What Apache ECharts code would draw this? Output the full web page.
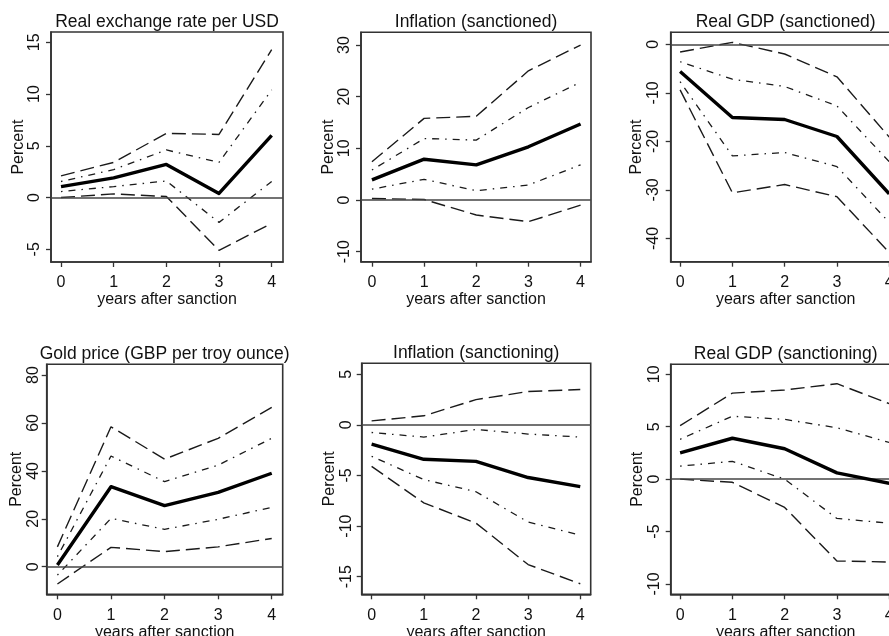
<!DOCTYPE html>
<html>
<head>
<meta charset="utf-8">
<title>Sanction impulse responses</title>
<script src="https://cdn.jsdelivr.net/npm/echarts@6/dist/echarts.min.js"></script>
<style>
  html, body { margin: 0; padding: 0; background: #fff; }
  #chart { width: 889px; height: 636px; }
</style>
</head>
<body>
<div id="chart"></div>
<script>
// Horizon (years after the sanction)
const years = [0, 1, 2, 3, 4];

// Real exchange rate per USD (%)
const fxMain  = [1.05, 1.9, 3.2, 0.4, 6.0];
const fxHiOut = [2.1, 3.4, 6.2, 6.1, 14.3];
const fxHiIn  = [1.55, 2.7, 4.6, 3.4, 10.4];
const fxLoIn  = [0.58, 1.06, 1.6, -2.4, 1.55];
const fxLoOut = [0.0, 0.35, 0.1, -5.1, -2.5];
const fxTicks = [-5, 0, 5, 10, 15];

// Inflation, sanctioned country (%)
const infSdMain  = [3.9, 7.9, 6.8, 10.3, 14.7];
const infSdHiOut = [7.4, 15.8, 16.2, 25.0, 30.0];
const infSdHiIn  = [5.8, 11.9, 11.6, 17.9, 22.8];
const infSdLoIn  = [2.1, 4.0, 1.8, 2.9, 6.8];
const infSdLoOut = [0.3, 0.1, -2.9, -4.2, -1.0];
const infSdTicks = [-10, 0, 10, 20, 30];

// Real GDP, sanctioned country (%)
const gdpSdMain  = [-5.6, -15.1, -15.5, -19.0, -30.8];
const gdpSdHiOut = [-1.6, 0.4, -2.0, -6.7, -19.1];
const gdpSdHiIn  = [-3.6, -7.2, -8.7, -12.7, -24.2];
const gdpSdLoIn  = [-7.7, -23.0, -22.3, -25.2, -36.7];
const gdpSdLoOut = [-9.4, -30.6, -28.9, -31.4, -42.9];
const gdpSdTicks = [-40, -30, -20, -10, 0];

// Gold price, GBP per troy ounce (%)
const goldMain  = [0.7, 33.4, 25.5, 31.0, 39.0];
const goldHiOut = [8.3, 58.4, 44.9, 53.6, 66.5];
const goldHiIn  = [4.2, 46.2, 35.5, 42.4, 53.6];
const goldLoIn  = [-3.5, 20.2, 15.6, 19.8, 24.8];
const goldLoOut = [-7.2, 8.1, 6.3, 8.3, 11.8];
const goldTicks = [0, 20, 40, 60, 80];

// Inflation, sanctioning country (%)
const infSgMain  = [-1.9, -3.4, -3.6, -5.2, -6.1];
const infSgHiOut = [0.4, 0.9, 2.5, 3.3, 3.5];
const infSgHiIn  = [-0.75, -1.2, -0.45, -0.9, -1.2];
const infSgLoIn  = [-3.1, -5.4, -6.6, -9.6, -10.9];
const infSgLoOut = [-4.1, -7.7, -9.7, -13.8, -15.7];
const infSgTicks = [-15, -10, -5, 0, 5];

// Real GDP, sanctioning country (%)
const gdpSgMain  = [2.5, 3.9, 2.9, 0.6, -0.4];
const gdpSgHiOut = [5.1, 8.2, 8.5, 9.1, 7.2];
const gdpSgHiIn  = [3.8, 6.0, 5.7, 4.9, 3.5];
const gdpSgLoIn  = [1.24, 1.7, 0.0, -3.75, -4.2];
const gdpSgLoOut = [0.0, -0.3, -2.7, -7.8, -7.9];
const gdpSgTicks = [-10, -5, 0, 5, 10];

const titles = [
  'Real exchange rate per USD', 'Inflation (sanctioned)', 'Real GDP (sanctioned)',
  'Gold price (GBP per troy ounce)', 'Inflation (sanctioning)', 'Real GDP (sanctioning)'
];
const xTitle = 'years after sanction';
const yTitle = 'Percent';

const panelData = [
  { main: fxMain, hiOut: fxHiOut, hiIn: fxHiIn, loIn: fxLoIn, loOut: fxLoOut, ticks: fxTicks },
  { main: infSdMain, hiOut: infSdHiOut, hiIn: infSdHiIn, loIn: infSdLoIn, loOut: infSdLoOut, ticks: infSdTicks },
  { main: gdpSdMain, hiOut: gdpSdHiOut, hiIn: gdpSdHiIn, loIn: gdpSdLoIn, loOut: gdpSdLoOut, ticks: gdpSdTicks },
  { main: goldMain, hiOut: goldHiOut, hiIn: goldHiIn, loIn: goldLoIn, loOut: goldLoOut, ticks: goldTicks },
  { main: infSgMain, hiOut: infSgHiOut, hiIn: infSgHiIn, loIn: infSgLoIn, loOut: infSgLoOut, ticks: infSgTicks },
  { main: gdpSgMain, hiOut: gdpSgHiOut, hiIn: gdpSgHiIn, loIn: gdpSgLoIn, loOut: gdpSgLoOut, ticks: gdpSgTicks }
];

// Panel frames and axis extents (pixels / data units)
const layout = [
  { left: 51,    top: 32,    width: 232, height: 230, xMin: -0.19, xMax: 4.215, yMin: -6.23, yMax: 16.0,  lab: 8, gap: 23 },
  { left: 361,   top: 32.3,  width: 230, height: 229.4, xMin: -0.21, xMax: 4.2, yMin: -11.94, yMax: 32.46, lab: 8, gap: 23 },
  { left: 670.7, top: 32.3,  width: 230, height: 229.4, xMin: -0.18, xMax: 4.22, yMin: -44.8, yMax: 2.47,  lab: 9, gap: 25 },
  { left: 46.7,  top: 364.3, width: 236, height: 230, xMin: -0.2,  xMax: 4.205, yMin: -11.5, yMax: 84.47, lab: 5,  gap: 19 },
  { left: 361.7, top: 363.3, width: 229, height: 231, xMin: -0.19, xMax: 4.2,  yMin: -16.74, yMax: 6.09, lab: 7,  gap: 23 },
  { left: 670.7, top: 364.3, width: 230, height: 230, xMin: -0.18, xMax: 4.22, yMin: -10.98, yMax: 10.95, lab: 8, gap: 25 }
];

const FONT = '"Liberation Sans", Arial, sans-serif';
const INK = '#111';
const FRAME = '#333';

// Long dashes for the outer bands, dot-dash for the inner bands
const outerDash = [14, 6];
const innerDash = [1.5, 6, 7, 6];

const grids = [], xAxes = [], yAxes = [], series = [], titleList = [];

layout.forEach((g, i) => {
  grids.push({
    left: g.left, top: g.top, width: g.width, height: g.height,
    show: true, borderColor: FRAME, borderWidth: 1.6, backgroundColor: 'transparent',
    containLabel: false, outerBoundsMode: 'none'
  });
  titleList.push({
    text: titles[i],
    left: g.left + g.width / 2,
    top: g.top - 19,
    textAlign: 'center',
    padding: 0,
    textStyle: { fontFamily: FONT, fontSize: 17.5, fontWeight: 'normal', color: INK }
  });
  xAxes.push({
    type: 'value', gridIndex: i, min: g.xMin, max: g.xMax,
    splitLine: { show: false },
    axisLine: { show: true, onZero: false, lineStyle: { color: FRAME, width: 1.6 } },
    axisTick: { show: true, inside: false, length: 5, customValues: years, lineStyle: { color: FRAME, width: 1.3 } },
    axisLabel: { customValues: years, margin: 13, fontFamily: FONT, fontSize: 16, color: INK },
    name: xTitle, nameLocation: 'middle', nameGap: 30,
    nameTextStyle: { fontFamily: FONT, fontSize: 16, color: INK }
  });
  const d = panelData[i];
  yAxes.push({
    type: 'value', gridIndex: i, min: g.yMin, max: g.yMax,
    splitLine: { show: false },
    axisLine: { show: true, onZero: false, lineStyle: { color: FRAME, width: 1.6 } },
    axisTick: { show: true, inside: false, length: 5, customValues: d.ticks, lineStyle: { color: FRAME, width: 1.3 } },
    axisLabel: { customValues: d.ticks, rotate: 90, margin: g.lab, fontFamily: FONT, fontSize: 16, color: INK },
    name: yTitle, nameLocation: 'middle', nameGap: g.gap,
    nameTextStyle: { fontFamily: FONT, fontSize: 16, color: INK }
  });

  const pts = arr => years.map((yr, k) => [yr, arr[k]]);
  const band = (arr, dash, w) => ({
    type: 'line', xAxisIndex: i, yAxisIndex: i, data: pts(arr),
    symbol: 'none', silent: true,
    lineStyle: { color: '#1a1a1a', width: w, type: dash }
  });
  series.push(band(d.loOut, outerDash, 1.4));
  series.push(band(d.loIn, innerDash, 1.3));
  series.push(band(d.hiIn, innerDash, 1.3));
  series.push(band(d.hiOut, outerDash, 1.4));
  series.push({
    type: 'line', xAxisIndex: i, yAxisIndex: i, data: pts(d.main),
    symbol: 'none', silent: true, z: 5,
    lineStyle: { color: '#000', width: 3.4, join: 'round' },
    markLine: {
      silent: true, symbol: 'none', label: { show: false },
      lineStyle: { color: '#444', width: 1.6, type: 'solid' },
      data: [{ yAxis: 0 }]
    }
  });
});

const chart = echarts.init(document.getElementById('chart'), null, { renderer: 'canvas' });
chart.setOption({
  animation: false,
  backgroundColor: '#fff',
  title: titleList,
  grid: grids,
  xAxis: xAxes,
  yAxis: yAxes,
  series: series
});
</script>
</body>
</html>
